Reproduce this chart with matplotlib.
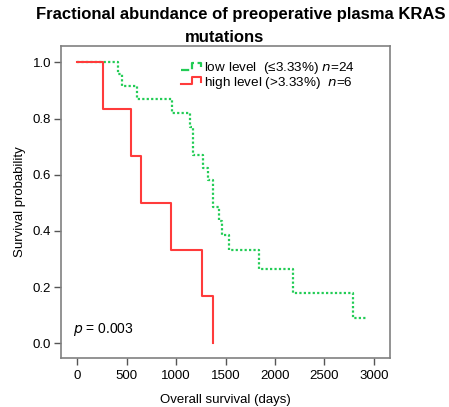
import numpy as np
import matplotlib
matplotlib.use("Agg")
import matplotlib.pyplot as plt
from matplotlib.legend_handler import HandlerBase
from matplotlib.lines import Line2D

plt.rcParams['font.family'] = ['Liberation Sans', 'DejaVu Sans']

# KM 곡선 값
low_days = [0, 417, 458, 603, 963, 1141, 1175, 1276, 1327, 1377, 1434, 1462, 1535, 1842, 2179, 2785, 2919]
low_surv = [1.0, 0.958, 0.917, 0.870, 0.820, 0.770, 0.670, 0.625, 0.580, 0.485, 0.435, 0.385, 0.333, 0.265, 0.178, 0.089, 0.089]
high_days = [0, 266, 542, 646, 946, 1266, 1377]
high_surv = [1.0, 0.833, 0.667, 0.5, 0.333, 0.167, 0.0]

x_ticks = [0, 500, 1000, 1500, 2000, 2500, 3000]
y_ticks = [0.0, 0.2, 0.4, 0.6, 0.8, 1.0]

green = '#22cc55'
red = '#ff3b3b'


class StepHandler(HandlerBase):
    def create_artists(self, legend, orig_handle, xdescent, ydescent, width, height, fontsize, trans):
        x0, x1 = -xdescent, -xdescent + width
        xm = x0 + 0.55 * width
        lo, hi = -ydescent + 0.1 * height, -ydescent + 0.95 * height
        xs = [x0, xm, xm, x1, x1]
        ys = [lo, lo, hi, hi, lo + 0.3 * height]
        ln = Line2D(xs, ys, color=orig_handle.get_color(), lw=orig_handle.get_linewidth(),
                    linestyle=orig_handle.get_linestyle())
        ln.set_transform(trans)
        return [ln]


fig = plt.figure(figsize=(4.49, 4.07), dpi=100)
ax = fig.add_axes([0.1359, 0.1204, 0.7327, 0.7666])

l1, = ax.step(low_days, low_surv, where='post', color=green, lw=1.6, linestyle=(0, (1, 1)))
l2, = ax.step(high_days, high_surv, where='post', color=red, lw=1.5)

ax.set_xlim(-162, 3162)
ax.set_ylim(-0.052, 1.058)
ax.set_xticks(x_ticks)
ax.set_yticks(y_ticks)
ax.set_yticklabels(['%.1f' % v for v in y_ticks])
ax.tick_params(direction='out', length=5, width=1, color='#555555', labelsize=9.5, pad=2)
ax.tick_params(axis='x', pad=4)
for s in ax.spines.values():
    s.set_color('#808080')
    s.set_linewidth(1.2)

ax.set_xlabel('Overall survival (days)', fontsize=9.5, labelpad=8)
ax.set_ylabel('Survival probability', fontsize=9.5, labelpad=5)

ax.text(-37, 0.05, r'$p$ = 0.003', fontsize=10, va='center', ha='left')

leg = ax.legend([l1, l2], [r'low level  (≤3.33%) $\it{n}$=24', r'high level (>3.33%)  $\it{n}$=6'],
                handler_map={Line2D: StepHandler()}, loc='upper left',
                bbox_to_anchor=(0.335, 0.985), frameon=False, fontsize=9.7,
                handlelength=1.5, handleheight=0.6, handletextpad=0.2,
                labelspacing=-0.1, borderaxespad=0.3)

fig.text(241 / 449, 1 - 15 / 407, 'Fractional abundance of preoperative plasma KRAS',
         ha='center', va='center', fontsize=12, fontweight='bold')
fig.text(224 / 449, 1 - 37 / 407, 'mutations',
         ha='center', va='center', fontsize=12, fontweight='bold')

fig.savefig('out.png', dpi=100)
